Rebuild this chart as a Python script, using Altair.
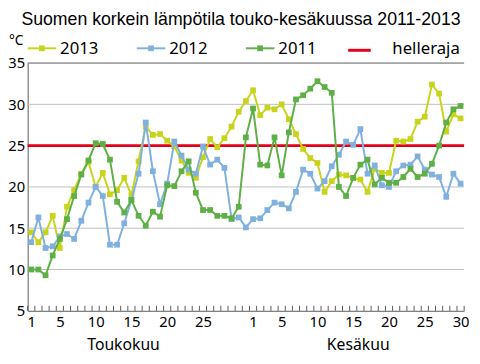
import altair as alt
import pandas as pd

# ---------------- data ----------------
may_days = list(range(1, 32))
jun_days = list(range(1, 31))
series_names = ["2013", "2012", "2011"]
series_colors = ["#c8d41c", "#80b1de", "#5daf46"]
limit_name = "helleraja"
limit_value = 25
limit_color = "#e3001b"

t2013 = [14.5, 13.3, 14.5, 16.5, 12.6, 17.6, 19.6, 21.6, 23.0, 20.0, 21.7, 19.1, 19.6, 21.1, 19.0,
         23.1, 27.3, 26.3, 26.4, 25.6, 24.9, 23.2, 21.7, 21.1, 23.6, 25.8, 24.8, 25.9, 27.3, 29.1, 30.4,
         31.7, 28.7, 29.6, 29.4, 30.0, 28.2, 26.4, 24.6, 23.5, 22.9, 19.4, 20.7, 21.5, 21.4,
         21.1, 20.9, 19.4, 22.2, 21.7, 21.7, 25.6, 25.5, 25.8, 27.9, 28.5, 32.4, 31.3, 26.7, 28.8, 28.3]
t2012 = [13.3, 16.3, 12.6, 12.8, 14.0, 14.3, 13.7, 15.9, 18.1, 20.0, 18.9, 13.0, 13.0, 15.6, 18.4,
         21.6, 27.8, 21.9, 17.9, 20.4, 25.5, 23.8, 22.1, 21.6, 24.9, 22.7, 23.3, 22.3, 16.1, 16.3, 15.1,
         16.1, 16.2, 17.2, 18.1, 17.9, 17.4, 19.4, 22.1, 21.6, 19.8, 20.7, 22.5, 23.9, 25.5,
         25.1, 27.0, 21.6, 22.6, 20.2, 20.0, 21.9, 22.6, 22.7, 23.7, 22.1, 21.5, 21.2, 18.8, 21.6, 20.4]
t2011 = [10.0, 10.0, 9.3, 11.7, 13.7, 16.1, 18.9, 21.5, 23.2, 25.3, 25.2, 23.3, 18.2, 16.9, 18.4,
         16.5, 15.3, 17.0, 16.4, 20.2, 20.1, 21.9, 23.1, 19.3, 17.2, 17.2, 16.5, 16.5, 16.2, 17.6, 26.0,
         29.5, 22.7, 22.6, 26.0, 21.4, 26.6, 30.6, 31.1, 31.9, 32.8, 32.1, 31.4, 20.0, 18.9,
         21.1, 22.7, 23.3, 20.3, 21.1, 20.5, 20.5, 21.2, 22.2, 21.2, 21.6, 22.8, 25.0, 27.8, 29.4, 29.8]

may_tick_labels = [1, 5, 10, 15, 20, 25]
jun_tick_labels = [1, 5, 10, 15, 20, 25, 30]
month_names = ["Toukokuu", "Kesäkuu"]
y_ticks = [5, 10, 15, 20, 25, 30, 35]
grid_values = [10, 15, 20, 30]
title_text = "Suomen korkein lämpötila touko-kesäkuussa 2011-2013"
unit_text = "°C"

# ---------------- tables ----------------
n_may = len(may_days)
idx = list(range(1, n_may + len(jun_days) + 1))
series_values = [t2013, t2012, t2011]
dfs = []
for name, vals in zip(series_names, series_values):
    dfs.append(pd.DataFrame({"idx": idx, "temp": vals, "series": name}))

label_vals = may_tick_labels + [n_may + d for d in jun_tick_labels]
boundaries = pd.DataFrame({"b": [i - 0.5 for i in idx] + [idx[-1] + 0.5]})
grid_df = pd.DataFrame({"y": grid_values})
top_df = pd.DataFrame({"y": [max(y_ticks)]})
limit_df = pd.DataFrame({"y": [limit_value]})
months_df = pd.DataFrame({"m": month_names,
                          "x": [(1 + n_may) / 2 - 2.1, n_may + (1 + len(jun_days)) / 2 + 0.2]})
one = pd.DataFrame({"a": [0]})

W, H = 444, 252
FONT = "Noto Sans"
AX = "#595959"

xscale = alt.Scale(domain=[0.5, idx[-1] + 0.5], nice=False, zero=False)
yscale = alt.Scale(domain=[min(y_ticks), max(y_ticks)], nice=False, zero=False)
xaxis = alt.Axis(values=label_vals,
                 labelExpr=f"datum.value > {n_may} ? datum.value - {n_may} : datum.value",
                 ticks=False, tickSize=0, grid=False, title=None, domainColor=AX, domainWidth=1,
                 labelFont=FONT, labelFontSize=15, labelColor="#000", labelPadding=4,
                 labelOverlap=False, labelFlush=False)
yaxis = alt.Axis(values=y_ticks, ticks=False, tickSize=0, grid=False, title=None,
                 domainColor=AX, domainWidth=1, labelFont=FONT, labelFontSize=15,
                 labelColor="#000", labelPadding=3)

X = lambda f: alt.X(f, scale=xscale, axis=xaxis)
Y = lambda f: alt.Y(f, scale=yscale, axis=yaxis)

layers = []
layers.append(alt.Chart(grid_df).mark_rule(color="#bfbfbf", strokeWidth=1).encode(y=Y("y:Q")))
layers.append(alt.Chart(top_df).mark_rule(color=AX, strokeWidth=1).encode(y=Y("y:Q")))
layers.append(alt.Chart(limit_df).mark_rule(color=limit_color, strokeWidth=3).encode(y=Y("y:Q")))
layers.append(alt.Chart(boundaries).mark_rule(color=AX, strokeWidth=1).encode(
    x=X("b:Q"), y=alt.value(H), y2=alt.value(H - 5)))

for df, col in zip(dfs, series_colors):
    base = alt.Chart(df)
    layers.append(base.mark_line(color=col, strokeWidth=2).encode(x=X("idx:Q"), y=Y("temp:Q")))
    layers.append(base.mark_square(color=col, size=34, opacity=1, filled=True).encode(
        x=X("idx:Q"), y=Y("temp:Q")))

# month labels under axis
layers.append(alt.Chart(months_df).mark_text(font=FONT, fontSize=16, color="#000",
                                             baseline="alphabetic", align="center").encode(
    x=X("x:Q"), y=alt.value(H + 40), text="m:N"))

# title and unit
layers.append(alt.Chart(one).mark_text(font="Liberation Sans", fontSize=18, color="#000",
                                       align="center", baseline="alphabetic").encode(
    x=alt.value(217), y=alt.value(-39), text=alt.value(title_text)))
layers.append(alt.Chart(one).mark_text(font=FONT, fontSize=14, color="#000",
                                       align="left", baseline="alphabetic").encode(
    x=alt.value(-19), y=alt.value(-18), text=alt.value(unit_text)))

# legend (manual)
leg_x = [0, 111, 222]
for name, col, lx in zip(series_names, series_colors, leg_x):
    layers.append(alt.Chart(one).mark_rule(color=col, strokeWidth=2).encode(
        x=alt.value(lx), x2=alt.value(lx + 29), y=alt.value(-15)))
    layers.append(alt.Chart(one).mark_square(color=col, size=34, opacity=1, filled=True).encode(
        x=alt.value(lx + 14.5), y=alt.value(-15)))
    layers.append(alt.Chart(one).mark_text(font=FONT, fontSize=17, color="#000", align="left",
                                           baseline="middle").encode(
        x=alt.value(lx + 33), y=alt.value(-14), text=alt.value(name)))
layers.append(alt.Chart(one).mark_rule(color=limit_color, strokeWidth=3).encode(
    x=alt.value(326), x2=alt.value(349), y=alt.value(-13)))
layers.append(alt.Chart(one).mark_text(font=FONT, fontSize=17, color="#000", align="left",
                                       baseline="middle").encode(
    x=alt.value(371), y=alt.value(-14), text=alt.value(limit_name)))

chart = alt.layer(*layers).properties(
    width=W, height=H,
    padding={"left": 20, "top": 53, "right": 8, "bottom": 44},
    autosize=alt.AutoSizeParams(type="none"),
).configure_view(stroke=None)

chart.save("out.html", embed_options={"renderer": "svg", "actions": False})
